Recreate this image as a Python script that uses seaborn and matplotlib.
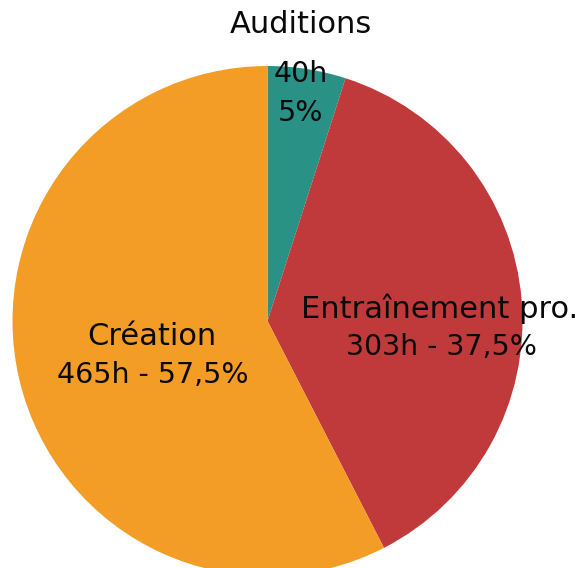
import matplotlib
matplotlib.use("Agg")
import matplotlib.pyplot as plt
import seaborn as sns

categories = ["Auditions", "Entraînement pro.", "Création"]
hours = [40, 303, 465]
hour_labels = ["40h", "303h", "465h"]
pct_labels = ["5%", "37,5%", "57,5%"]
colors = ["#2A9187", "#C0393B", "#F39C26"]

sns.set_theme(style="white")
plt.rcParams["font.family"] = ["DejaVu Sans"]

W, H = 587, 568
fig = plt.figure(figsize=(W / 100, H / 100), dpi=100)
ax = fig.add_axes([0, 0, 1, 1])

cx, cy, r = 267.5, 321.0, 255.0  # pixel centre (from top) and radius
ax.pie(hours, colors=colors, startangle=90, counterclock=False,
       radius=1.0, center=(0, 0), wedgeprops=dict(linewidth=0))
ax.set_xlim(-cx / r, (W - cx) / r)
ax.set_ylim(-(H - cy) / r, cy / r)
ax.set_aspect("auto")
ax.axis("off")

def put(px, py, s, fs):
    fig.text(px / W, 1 - py / H, s, ha="center", va="baseline",
             fontsize=fs, color="#0a0a0a")

fw, fn = 22, 20.5
# Auditions (three lines)
put(301, 33, categories[0], fw)
put(301, 82, hour_labels[0], fn)
put(301, 121, pct_labels[0], fn)
# Entraînement pro.
put(440, 318, categories[1], fw)
put(441, 355, f"{hour_labels[1]} - {pct_labels[1]}", fn)
# Création
put(152, 345, categories[2], fw)
put(153, 383, f"{hour_labels[2]} - {pct_labels[2]}", fn)

fig.savefig("out.png", dpi=100)
